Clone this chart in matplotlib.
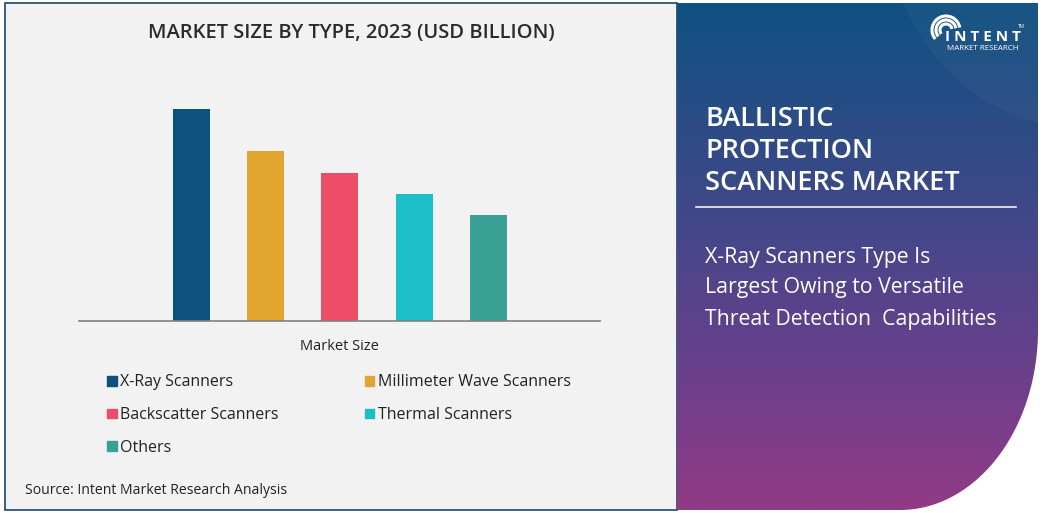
import numpy as np
import matplotlib
matplotlib.use('Agg')
import matplotlib.pyplot as plt
from matplotlib.patches import Rectangle, Arc, PathPatch
from matplotlib.path import Path
from matplotlib.colors import LinearSegmentedColormap

plt.rcParams['font.family'] = ['Open Sans', 'DejaVu Sans']

# data
categories = ['X-Ray Scanners', 'Millimeter Wave Scanners', 'Backscatter Scanners',
              'Thermal Scanners', 'Others']
market_size = [2.12, 1.70, 1.48, 1.27, 1.06]
colors = ['#0c527d', '#e2a52f', '#ee4d67', '#1dbec8', '#38a095']

W, H = 1043, 513
fig = plt.figure(figsize=(W / 100, H / 100), dpi=100)
fig.patch.set_facecolor('white')

# background canvas in pixel coords
bg = fig.add_axes([0, 0, 1, 1])
bg.set_xlim(0, W)
bg.set_ylim(H, 0)
bg.axis('off')

# left panel
bg.add_patch(Rectangle((5, 3), 672, 507, facecolor='#f2f2f2',
                       edgecolor='#1d4766', linewidth=1.2, zorder=0))

# right panel with gradient and curved corner
cx, cy, a, b = 900, 330, 138, 180
t = np.linspace(0, np.pi / 2, 60)
arc_x = cx + a * np.cos(t)
arc_y = cy + b * np.sin(t)
verts = [(677, 3), (1038, 3), (1038, cy)]
verts += list(zip(arc_x, arc_y))
verts += [(677, 510), (677, 3)]
clip = Path(verts)
patch = PathPatch(clip, facecolor='none', edgecolor='none')
bg.add_patch(patch)

cmap = LinearSegmentedColormap.from_list(
    'panel', [(0.0, '#0f5181'), (0.45, '#45478a'), (0.75, '#6e3f8c'), (1.0, '#923a85')])
grad = np.linspace(0, 1, 256).reshape(-1, 1)
im = bg.imshow(grad, extent=[677, 1038, 510, 3], cmap=cmap, aspect='auto', zorder=1)
im.set_clip_path(patch)

# faint light arc in top right
glow = bg.add_patch(plt.Circle((1090, -70), 200, facecolor='white', alpha=0.03,
                               edgecolor='none', zorder=2))
glow.set_clip_path(patch)

# right panel text
for i, line in enumerate(['BALLISTIC', 'PROTECTION', 'SCANNERS MARKET']):
    bg.text(705, 119 + 32 * i, line, color='white', fontsize=19.5, fontweight='semibold',
            va='center', ha='left', zorder=3)
bg.plot([696, 1016], [206.5, 206.5], color='white', linewidth=1.1, zorder=3)
for i, line in enumerate(['X-Ray Scanners Type Is', 'Largest Owing to Versatile',
                          'Threat Detection  Capabilities']):
    bg.text(705, 257 + 31 * i, line, color='white', fontsize=15.3, fontweight='medium',
            va='center', ha='left', zorder=3)

# logo
for r in (6, 10, 14):
    bg.add_patch(Arc((946, 30), 2 * r, 2 * r, theta1=-220, theta2=-10,
                     color='white', linewidth=2.2, zorder=3))
bg.text(983, 37, 'I N T E N T', color='white', fontsize=11, fontweight='bold',
        ha='center', va='center', zorder=3)
bg.text(983, 49, 'MARKET RESEARCH', color='white', fontsize=5.8,
        ha='center', va='center', zorder=3)
bg.text(1021, 27, 'TM', color='white', fontsize=3.5, ha='center', va='center', zorder=3)

# source and titles
bg.text(25, 491, 'Source: Intent Market Research Analysis', fontsize=10.1,
        color='#222222', va='center', ha='left')
bg.text(351, 33, 'MARKET SIZE BY TYPE, 2023 (USD BILLION)', fontsize=14.5,
        fontweight='semibold', color='#2b2b2b', va='center', ha='center')

# bar chart
ax = fig.add_axes([79 / W, 1 - 321 / H, 521 / W, 231 / H])
ax.patch.set_alpha(0)
x = np.arange(len(categories))
ax.bar(x, market_size, width=0.5, color=colors)
ax.set_xlim(-1.515, 5.504)
ax.set_ylim(0, 2.31)
for s in ('top', 'right', 'left'):
    ax.spines[s].set_visible(False)
ax.spines['bottom'].set_color('#808080')
ax.spines['bottom'].set_linewidth(1.2)
ax.set_yticks([])
ax.set_xticks([])
ax.set_xlabel('Market Size', fontsize=10.5, color='#222222', labelpad=13)

# legend filled row by row: reorder for column-major layout
order = [0, 2, 4, 1, 3]
handles = [Rectangle((0, 0), 1, 1, color=colors[i]) for i in order]
labels = [categories[i] for i in order]
fig.legend(handles, labels, ncol=2, loc='upper left',
           bbox_to_anchor=(93 / W, 1 - 360 / H), frameon=False, fontsize=11.5,
           handlelength=0.58, handleheight=0.58, handletextpad=0.22,
           labelspacing=1.05, columnspacing=5.4, labelcolor='#222222')

fig.savefig('out.png', dpi=100)
